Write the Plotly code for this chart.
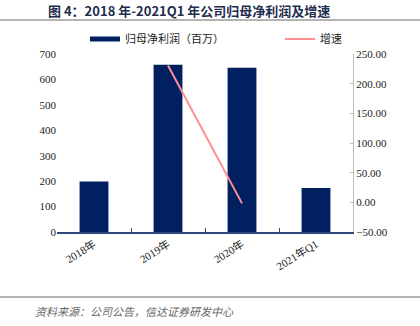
import plotly.graph_objects as go

# 归母净利润（百万）与增速
categories = ["2018年", "2019年", "2020年", "2021年Q1"]
net_profit = [199, 658, 646, 173]
growth_cats = ["2019年", "2020年"]
growth_pct = [230.5, -1.8]

left_ticks = [0, 100, 200, 300, 400, 500, 600, 700]
right_ticks = [-50, 0, 50, 100, 150, 200, 250]

NAVY = "#002060"
PINK = "#FF8F8F"
SERIF = "Liberation Serif, 'Noto Sans CJK SC', serif"
W, H = 420, 326
L, R, T, B = 57, 67, 54, 94
PW, PH = W - L - R, H - T - B


def px_x(x):
    return (x - L) / PW


def px_y(y):
    return 1 - (y - T) / PH


fig = go.Figure()

fig.add_trace(go.Bar(
    x=categories, y=net_profit, name="归母净利润（百万）",
    marker=dict(color=NAVY, line=dict(width=0)),
    showlegend=False, yaxis="y",
))
# legend entry drawn as a thick bar-coloured line
fig.add_trace(go.Scatter(
    x=[None], y=[None], mode="lines", name="归母净利润（百万）",
    line=dict(color=NAVY, width=5), yaxis="y", legend="legend",
))
fig.add_trace(go.Scatter(
    x=growth_cats, y=growth_pct, mode="lines", name="增速",
    line=dict(color=PINK, width=2), yaxis="y2", legend="legend2",
))

legend_common = dict(
    orientation="h", yanchor="middle", xanchor="left",
    xref="container", yref="container",
    font=dict(family=SERIF, size=11, color="#222"),
    bgcolor="rgba(0,0,0,0)", itemwidth=30, borderwidth=0,
)

fig.update_layout(
    width=W, height=H,
    margin=dict(l=L, r=R, t=T, b=B, autoexpand=False),
    paper_bgcolor="white", plot_bgcolor="white",
    font=dict(family=SERIF, size=11, color="#222"),
    bargap=0.61,
    showlegend=True,
    legend=dict(x=85 / W, y=1 - 39 / H, **legend_common),
    legend2=dict(x=280 / W, y=1 - 39 / H, **legend_common),
    xaxis=dict(
        type="category", categoryorder="array", categoryarray=categories,
        showline=True, linecolor="#2F4A7A", linewidth=1.5,
        ticks="inside", tickson="boundaries", ticklen=4, tickcolor="#2F4A7A",
        tickangle=-32, showgrid=False, zeroline=False,
        tickfont=dict(family=SERIF, size=11, color="#222"),
    ),
    yaxis=dict(
        range=[0, 700], tickvals=left_ticks, showgrid=False, zeroline=False,
        showline=False, ticks="", tickfont=dict(family=SERIF, size=11, color="#222"),
    ),
    yaxis2=dict(
        overlaying="y", side="right", range=[-50, 250], tickvals=right_ticks,
        tickformat=".2f", ticksuffix="%", showgrid=False, zeroline=False,
        showline=True, linecolor="#BFBFBF", linewidth=1,
        ticks="inside", ticklen=3, tickcolor="#BFBFBF",
        tickfont=dict(family=SERIF, size=11, color="#222"),
    ),
)

# title, rules and source note
fig.add_annotation(
    text="<b>图 4：2018 年-2021Q1 年公司归母净利润及增速</b>",
    xref="paper", yref="paper", x=px_x(189), y=px_y(11),
    xanchor="center", yanchor="middle", showarrow=False,
    font=dict(family="'Noto Sans CJK SC', sans-serif", size=13, color="#1F2D4F"),
)
for yy in (20, 297):
    fig.add_shape(type="line", xref="paper", yref="paper",
                  x0=px_x(0), x1=px_x(W), y0=px_y(yy), y1=px_y(yy),
                  line=dict(color="#9A9A9A", width=1.5))
fig.add_annotation(
    text="<i>资料来源：公司公告，信达证券研发中心</i>",
    xref="paper", yref="paper", x=px_x(33), y=px_y(311),
    xanchor="left", yanchor="middle", showarrow=False,
    font=dict(family="'Noto Sans CJK SC', sans-serif", size=11, color="#666"),
)

fig.write_html("out.html")
